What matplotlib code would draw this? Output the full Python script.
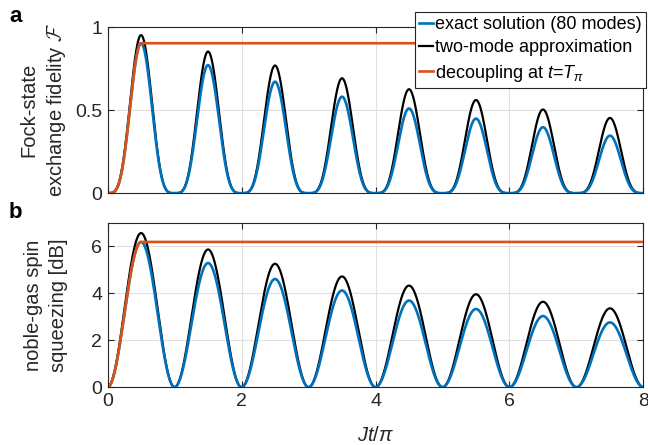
import numpy as np
import matplotlib
matplotlib.use("Agg")
import matplotlib.pyplot as plt

plt.rcParams['font.family'] = ['Liberation Sans', 'DejaVu Sans']
plt.rcParams['mathtext.fontset'] = 'custom'
plt.rcParams['mathtext.rm'] = 'Liberation Sans'
plt.rcParams['mathtext.it'] = 'Liberation Sans:italic'
plt.rcParams['mathtext.cal'] = 'cmsy10'

# peak values, one per half-period centred at Jt/pi = k + 0.5
peak_pos = [0.5, 1.5, 2.5, 3.5, 4.5, 5.5, 6.5, 7.5]
fid_two_mode = [0.952, 0.853, 0.769, 0.692, 0.626, 0.561, 0.504, 0.453]
fid_exact = [0.903, 0.771, 0.671, 0.581, 0.510, 0.449, 0.397, 0.346]
sq_two_mode = [6.57, 5.87, 5.26, 4.72, 4.33, 3.96, 3.64, 3.36]
sq_exact = [6.19, 5.29, 4.61, 4.12, 3.69, 3.33, 3.03, 2.76]
fid_decoupled = 0.903
sq_decoupled = 6.19

blue = '#0072BD'
orange = '#D95319'
axcol = '#262626'

t = np.linspace(0, 8, 3201)
k = np.clip(np.floor(t).astype(int), 0, 7)
s = np.sin(np.pi * t)


def oscillation(peaks, power):
    return np.asarray(peaks)[k] * np.abs(s) ** power


def decoupled(curve, level):
    out = np.full_like(curve, level)
    m = t <= peak_pos[0]
    out[m] = curve[m]
    return out


fig = plt.figure(figsize=(6.48, 4.45), dpi=100)
ax1 = fig.add_axes([0.166, 0.566, 0.827, 0.373])
ax2 = fig.add_axes([0.166, 0.130, 0.827, 0.369])

panels = [
    (ax1, fid_two_mode, fid_exact, fid_decoupled, 4, (0, 1), [0, 0.5, 1], ['0', '0.5', '1'],
     'Fock-state\nexchange fidelity $\\mathcal{F}$'),
    (ax2, sq_two_mode, sq_exact, sq_decoupled, 2, (0, 7), [0, 2, 4, 6], ['0', '2', '4', '6'],
     'noble-gas spin\nsqueezing [dB]'),
]

for ax, two, exact, level, pw, ylim, yt, ytl, ylab in panels:
    y_two = oscillation(two, pw)
    y_ex = oscillation(exact, pw)
    l2, = ax.plot(t, y_two, color='black', lw=1.6, label='two-mode approximation')
    l1, = ax.plot(t, y_ex, color=blue, lw=1.9, label='exact solution (80 modes)')
    l3, = ax.plot(t, decoupled(y_ex, level), color=orange, lw=1.9,
                  label='decoupling at $t$=$T_\\pi$')
    ax.set_xlim(0, 8)
    ax.set_ylim(*ylim)
    ax.set_xticks([0, 2, 4, 6, 8])
    ax.set_yticks(yt)
    ax.set_yticklabels(ytl)
    ax.grid(True, color='#e0e0e0', lw=0.8)
    ax.set_axisbelow(True)
    ax.tick_params(direction='in', top=True, right=True, length=4, width=0.8,
                   colors=axcol, labelsize=14, pad=4)
    for sp in ax.spines.values():
        sp.set_color(axcol)
        sp.set_linewidth(0.8)
    ax.set_ylabel(ylab, fontsize=14.5, color=axcol, linespacing=1.4)
    ax.yaxis.set_label_coords(-0.074, 0.5)

ax1.tick_params(labelbottom=False)
ax2.set_xlabel('$Jt/\\pi$', fontsize=14.5, color=axcol, labelpad=12)

leg = ax1.legend(handles=[l1, l2, l3], loc='upper right', bbox_to_anchor=(1.004, 1.09),
                 borderaxespad=0, fontsize=13, handlelength=0.8, handletextpad=0.1,
                 labelspacing=0.35, borderpad=0.22, fancybox=False, framealpha=1,
                 edgecolor=axcol)
leg.get_frame().set_linewidth(0.8)

fig.text(0.024, 0.963, 'a', fontsize=16, fontweight='bold', va='center', ha='center')
fig.text(0.024, 0.523, 'b', fontsize=16, fontweight='bold', va='center', ha='center')

fig.savefig('out.png', dpi=100)
